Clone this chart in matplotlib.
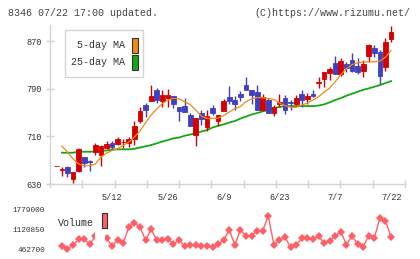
import numpy as np
import matplotlib
matplotlib.use('Agg')
import matplotlib.pyplot as plt
from matplotlib.patches import Rectangle
import matplotlib.transforms as mtransforms

# ---------------- data ----------------
title_left = '8346 07/22 17:00 updated.'
title_right = '(C)https://www.rizumu.net/'

opens = [660, 654, 659, 639, 652, 676, 668, 683, 678, 690,
         699, 697, 700, 699, 705, 735, 763, 769, 788, 769,
         775, 778, 759, 761, 746, 712, 749, 725, 757, 735,
         753, 776, 771, 781, 796, 788, 785, 754, 771, 749,
         764, 774, 767, 765, 781, 773, 781, 800, 806, 817,
         834, 815, 831, 838, 828, 820, 845, 859, 851, 827,
         873]
highs = [660, 659, 660, 650, 690, 676, 670, 699, 696, 703,
         702, 709, 706, 709, 736, 759, 766, 796, 791, 788,
         790, 778, 759, 774, 749, 740, 754, 755, 763, 746,
         772, 795, 778, 786, 809, 788, 796, 781, 774, 763,
         781, 779, 771, 779, 788, 782, 788, 810, 818, 827,
         845, 841, 835, 850, 841, 838, 865, 863, 855, 875,
         896]
lows = [660, 643, 641, 631, 650, 659, 651, 679, 661, 688,
        688, 696, 690, 692, 696, 732, 743, 769, 766, 760,
        760, 757, 736, 751, 727, 694, 729, 719, 746, 727,
        753, 764, 754, 770, 788, 765, 754, 753, 750, 745,
        760, 748, 755, 763, 760, 764, 776, 791, 793, 805,
        815, 811, 818, 818, 815, 809, 835, 844, 798, 820,
        869]
closes = [660, 655, 649, 650, 689, 666, 667, 695, 694, 697,
          692, 706, 701, 706, 727, 753, 754, 778, 771, 779,
          780, 765, 753, 751, 727, 740, 739, 744, 750, 746,
          769, 770, 764, 776, 788, 779, 754, 776, 750, 759,
          768, 755, 766, 774, 771, 777, 778, 802, 818, 823,
          815, 836, 824, 820, 818, 831, 863, 850, 812, 869,
          885]
ma5 = [np.nan, 693.8, 683.7, 672.0, 663.6, 660.7, 660.7, 663.6, 675.3, 682.0,
       686.2, 689.6, 694.6, 700.5, 708.9, 718.9, 733.0, 745.8, 755.9, 765.0,
       771.0, 773.8, 773.1, 768.1, 763.4, 754.2, 744.1, 740.2, 740.2, 740.7,
       745.0, 750.8, 756.7, 760.0, 768.4, 773.0, 775.2, 774.7, 773.8, 771.8,
       765.9, 761.7, 758.7, 758.7, 762.6, 765.9, 771.0, 776.5, 784.4, 791.1,
       802.0, 813.7, 823.8, 830.5, 833.4, 834.7, 835.2, 835.2, 836.4, 843.1,
       854.0]
ma25 = [np.nan, 682.5, 682.5, 682.5, 684.2, 684.2, 684.2, 684.5, 685.9, 686.2,
        687.9, 688.2, 688.2, 688.2, 689.2, 691.2, 693.3, 695.4, 698.3, 701.3,
        703.8, 706.7, 708.0, 711.0, 713.1, 715.1, 718.1, 720.6, 724.8, 727.7,
        730.2, 733.2, 735.7, 739.9, 743.3, 746.6, 749.1, 752.0, 754.2, 757.5,
        759.2, 760.9, 760.9, 760.9, 760.9, 760.9, 760.9, 761.7, 763.7, 767.1,
        771.0, 774.3, 778.2, 781.5, 784.9, 788.2, 790.6, 793.3, 796.1, 799.5,
        802.8]
volume = [np.nan, 571300, 462700, 594300, 781900, 781900, 617400, 890500, 824700, 814800,
          571300, 758900, 670000, 1176800, 1328200, 1176800, 758900, 1111000, 758900, 758900,
          791800, 617400, 758900, 561400, 594300, 594300, 561400, 561400, 518600, 617400,
          758900, 1088000, 594300, 1088000, 900400, 900400, 1064900, 1064900, 1548600, 594300,
          758900, 847700, 518600, 594300, 814800, 814800, 781900, 890500, 650300, 726000,
          900400, 1032000, 594300, 900400, 617400, 538400, 900400, 834600, 1473000, 1384100,
          867500]
date_labels = ['5/12', '5/26', '6/9', '6/23', '7/7', '7/22']
date_label_idx = [10, 20, 30, 40, 50, 60]
price_ticks = [630, 710, 790, 870]
vol_ticks = [462700, 1120850, 1779000]
legend_labels = ['5-day MA', '25-day MA']

# ---------------- style ----------------
RED = '#d40000'
BLUE = '#4040c0'
ORANGE = '#f08a10'
GREEN = '#14a814'
VOLC = '#ff5f66'
GRID = '#d4d4d4'
TXT = '#333333'
MONO = ['Liberation Mono', 'DejaVu Sans Mono']

W, H = 420, 259
fig = plt.figure(figsize=(4.2, 2.59), dpi=100)
fig.patch.set_facecolor('white')


def fx(x):
    return x / W


def fy(y):
    return 1 - y / H


ax = fig.add_axes([fx(50), fy(184), fx(405) - fx(50), fy(25) - fy(184)])
axv = fig.add_axes([fx(50), fy(249), fx(405) - fx(50), fy(209) - fy(249)])

n = len(closes)
x = np.arange(n)
xlim = (-1.13, 62.5)

# candles
for i in range(n):
    o, h, l, c = opens[i], highs[i], lows[i], closes[i]
    col = RED if c >= o else BLUE
    ax.vlines(i, l, h, color=col, lw=1.0, zorder=3)
    ax.bar(i, abs(c - o), bottom=min(o, c), width=0.85, color=col,
           edgecolor=col, linewidth=0.6, zorder=4)

ax.plot(x, ma25, color=GREEN, lw=1.3, zorder=2)
ax.plot(x, ma5, color=ORANGE, lw=0.9, zorder=5)

ax.set_xlim(*xlim)
ax.set_ylim(630, 897)
for s in ['top', 'right']:
    ax.spines[s].set_visible(False)
for s in ['left', 'bottom']:
    ax.spines[s].set_color(GRID)
    ax.spines[s].set_linewidth(1.0)

ax.set_yticks(price_ticks)
ax.set_yticklabels([str(t) for t in price_ticks], family=MONO, fontsize=6.2, color=TXT)
ax.tick_params(axis='y', direction='inout', length=6, width=1.0, color=GRID, pad=3)
ax.set_xticks(np.linspace(xlim[0], xlim[1], 12))
ax.set_xticklabels([])
ax.tick_params(axis='x', direction='inout', length=6, width=1.0, color=GRID)

trans = mtransforms.blended_transform_factory(ax.transData, ax.transAxes)
for i, lbl in zip(date_label_idx, date_labels):
    ax.text(i, -0.088, lbl, transform=trans, ha='center', va='center',
            family=MONO, fontsize=6.2, color=TXT)

# legend for price
fig.patches.append(Rectangle((fx(65), fy(77)), fx(143) - fx(65), fy(30) - fy(77),
                             transform=fig.transFigure, facecolor='white',
                             edgecolor=GRID, lw=1.0, zorder=10))
for lbl, col, yc in zip(legend_labels, [ORANGE, GREEN], [45.5, 62.0]):
    fig.text(fx(125), fy(yc), lbl, ha='right', va='center', family=MONO,
             fontsize=7.2, color=TXT, zorder=11)
    fig.patches.append(Rectangle((fx(131.5), fy(yc + 7.5)), fx(137.5) - fx(131.5), fy(yc - 7.5) - fy(yc + 7.5),
                                 transform=fig.transFigure, facecolor=col,
                                 edgecolor='#333333', lw=0.8, zorder=11))

# volume
axv.plot(x, volume, color=VOLC, lw=1.0, marker='D', markersize=4.2,
         markeredgewidth=0, clip_on=False, zorder=3)
axv.set_xlim(*xlim)
axv.set_ylim(vol_ticks[0], vol_ticks[-1])
for s in axv.spines.values():
    s.set_visible(False)
axv.set_xticks([])
axv.set_yticks(vol_ticks)
axv.set_yticklabels([str(t) for t in vol_ticks], family=MONO, fontsize=5.6, color=TXT)
axv.tick_params(axis='y', length=0, pad=3.5)
axv.patch.set_alpha(0)
axv.add_patch(Rectangle((6.85, -0.2), 1.8, 1.3, transform=mtransforms.blended_transform_factory(axv.transData, axv.transAxes),
                        facecolor='white', edgecolor='none', zorder=5, clip_on=False))

fig.text(fx(58), fy(223), 'Volume', ha='left', va='center', family=MONO,
         fontsize=7.2, color=TXT)
fig.patches.append(Rectangle((fx(101.7), fy(228)), fx(107.3) - fx(101.7), fy(213) - fy(228),
                             transform=fig.transFigure, facecolor=VOLC,
                             edgecolor='#333333', lw=0.8, zorder=11))

fig.text(fx(8), fy(13), title_left, ha='left', va='center', family=MONO,
         fontsize=7.2, color='#444444')
fig.text(fx(410), fy(13), title_right, ha='right', va='center', family=MONO,
         fontsize=7.2, color='#444444')

fig.savefig('out.png', dpi=100, facecolor='white')
